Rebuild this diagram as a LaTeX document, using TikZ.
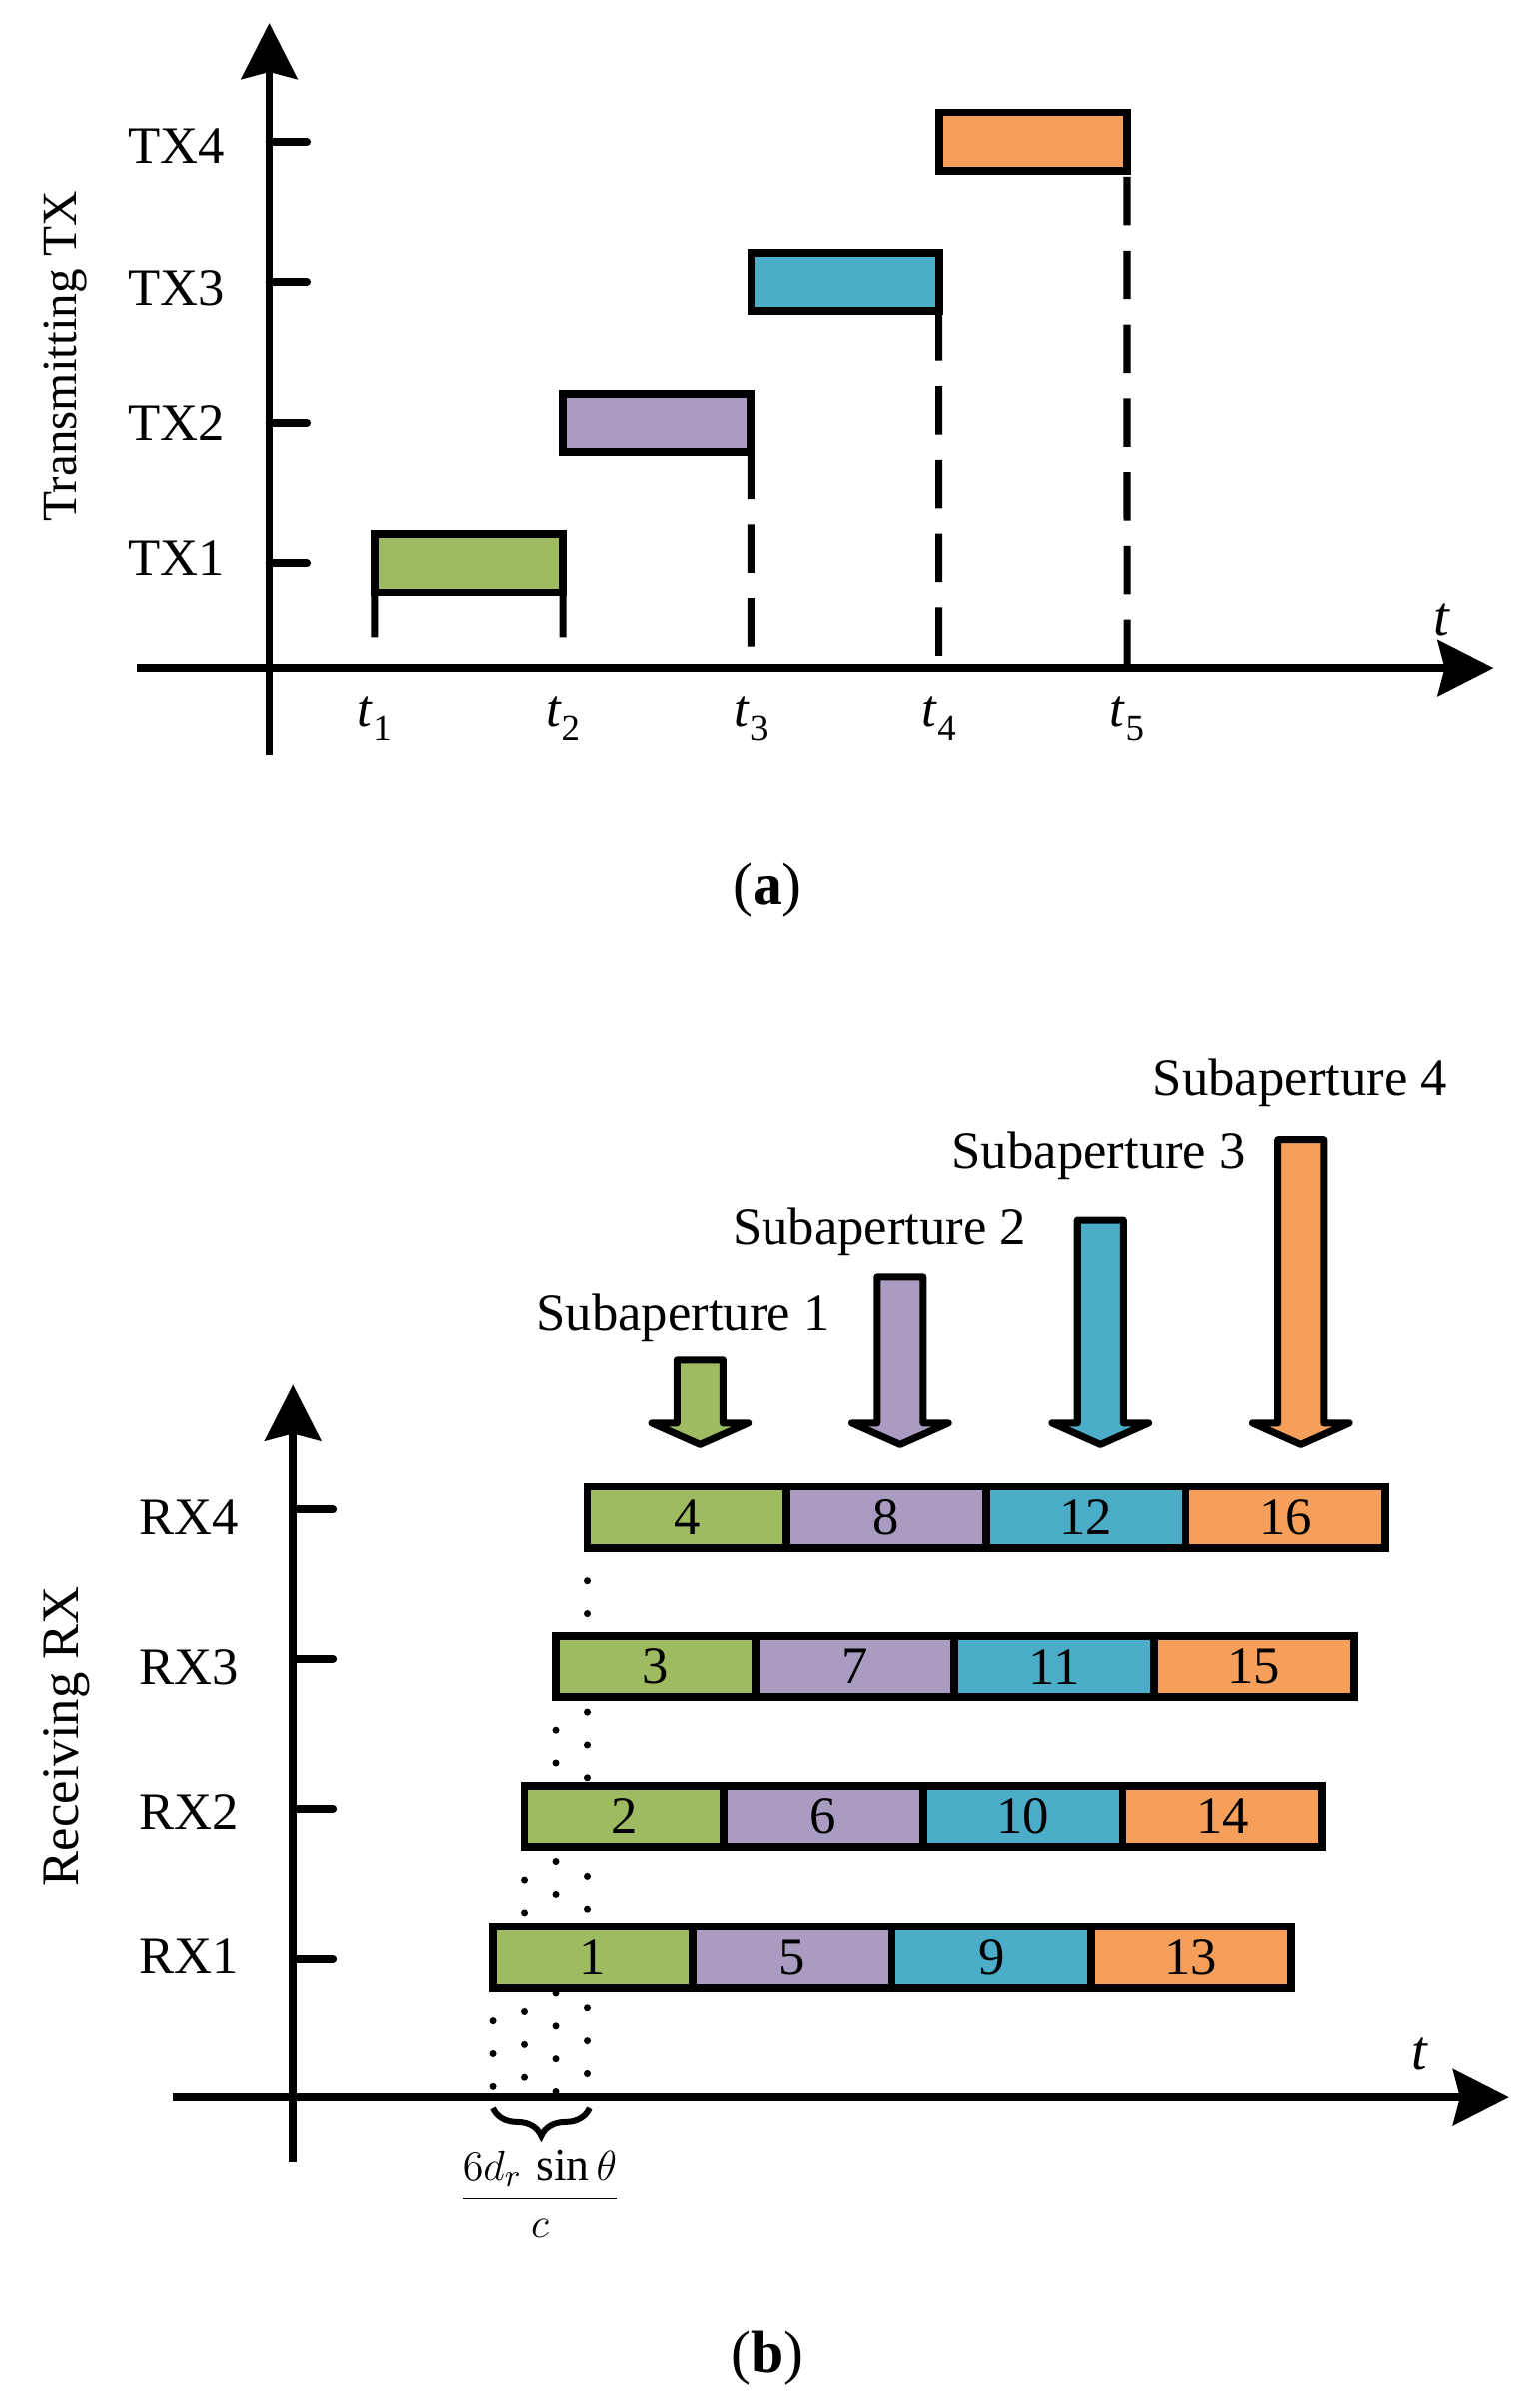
\documentclass[tikz,border=0pt]{standalone}
\usepackage{fontspec}
\setmainfont{Liberation Serif}
\usetikzlibrary{arrows.meta, decorations.pathreplacing}

\definecolor{subgreen}{HTML}{9FBB62}
\definecolor{subpurple}{HTML}{AA9BC0}
\definecolor{subblue}{HTML}{4BADC7}
\definecolor{suborange}{HTML}{F59F5A}

\tikzset{
  axis/.style={line width=2.2pt, -{Stealth[length=0.56cm, width=0.56cm, inset=0.07cm]}},
  tick/.style={line width=2.2pt, line cap=round},
  txbox/.style={draw, line width=2.2pt, outer sep=0pt, minimum width=1.883cm, minimum height=0.584cm},
  cell/.style={draw, line width=2.2pt, outer sep=0pt, minimum width=1.997cm, minimum height=0.614cm},
  timeline/.style={line width=2pt},
  dashline/.style={line width=2pt, dash pattern=on 13.8pt off 7.2pt},
  dotcol/.style={line width=2pt, line cap=round, dash pattern=on 0pt off 9.35pt},
  barrow/.style={line width=2pt, line join=round},
}

\begin{document}
\begin{tikzpicture}[x=0.01536cm, y=-0.01536cm, every node/.style={font=\fontsize{15}{18}\selectfont, inner sep=0pt}]
	\useasboundingbox (0,0) rectangle (1000,1568.4);
	% (a) transmitting
	\coordinate (ya0) at (175.5,491.5);
	\coordinate (ya1) at (175.5,15);
	\coordinate (xa0) at (89.4,435);
	\coordinate (xa1) at (973,435);
	\draw[axis] (ya0) -- (ya1);
	\draw[axis] (xa0) -- (xa1);

	\draw[tick] (175.5,92.3) -- (200,92.3);
	\draw[tick] (175.5,183.7) -- (200,183.7);
	\draw[tick] (175.5,275.3) -- (200,275.3);
	\draw[tick] (175.5,366.7) -- (200,366.7);

	\node[anchor=base east] (tx4l) at (147,106.4) {TX4};
	\node[anchor=base east] (tx3l) at (147,198.8) {TX3};
	\node[anchor=base east] (tx2l) at (147,286.6) {TX2};
	\node[anchor=base east] (tx1l) at (147,375) {TX1};
	\node[anchor=base, rotate=90, font=\fontsize{14}{17}\selectfont] (txlab) at (49.5,232) {Transmitting TX};

	\node[txbox, fill=subgreen] (tx1) at (305.3,366.7) {};
	\node[txbox, fill=subpurple] (tx2) at (427.9,275.3) {};
	\node[txbox, fill=subblue] (tx3) at (550.5,183.7) {};
	\node[txbox, fill=suborange] (tx4) at (673.1,92.3) {};

	\coordinate (e1) at (244,415);
	\coordinate (e2) at (366.6,415);
	\coordinate (e3) at (489.2,421);
	\coordinate (e4) at (611.8,427);
	\coordinate (e5) at (734.4,435);
	\draw[timeline] (tx1.south west) -- (e1);
	\draw[timeline] (tx1.south east) -- (e2);
	\draw[dashline] (e3) -- (tx2.south east);
	\draw[dashline] (e4) -- (tx3.south east);
	\draw[dashline] (e5) -- (tx4.south east);

	\node[anchor=base] (t1) at (244,473) {\textit{t}\raisebox{-3.9pt}{\fontsize{10.5}{12}\selectfont 1}};
	\node[anchor=base] (t2) at (366.6,473) {\textit{t}\raisebox{-3.9pt}{\fontsize{10.5}{12}\selectfont 2}};
	\node[anchor=base] (t3) at (489.2,473) {\textit{t}\raisebox{-3.9pt}{\fontsize{10.5}{12}\selectfont 3}};
	\node[anchor=base] (t4) at (611.8,473) {\textit{t}\raisebox{-3.9pt}{\fontsize{10.5}{12}\selectfont 4}};
	\node[anchor=base] (t5) at (734.4,473) {\textit{t}\raisebox{-3.9pt}{\fontsize{10.5}{12}\selectfont 5}};
	\node[anchor=base, font=\fontsize{16}{19}\selectfont\itshape] (ta) at (939,414) {t};
	\node[anchor=base, font=\fontsize{17}{20}\selectfont] (capa) at (500,589) {(\textbf{a})};

	% (b) receiving
	\coordinate (yb0) at (190.9,1408.5);
	\coordinate (yb1) at (190.9,902);
	\coordinate (xb0) at (112.9,1366);
	\coordinate (xb1) at (983,1366);

	\coordinate (d1) at (321,1294.8);
	\coordinate (d2) at (341.5,1203.3);
	\coordinate (d3) at (362,1105.7);
	\coordinate (d4) at (382.5,1008.4);
	\draw[dotcol] (d1) -- (d1 |- xb0);
	\draw[dotcol] (d2) -- (d2 |- xb0);
	\draw[dotcol] (d3) -- (d3 |- xb0);
	\draw[dotcol] (d4) -- (d4 |- xb0);

	\draw[axis] (yb0) -- (yb1);
	\draw[axis] (xb0) -- (xb1);

	\draw[tick] (190.9,983.3) -- (217,983.3);
	\draw[tick] (190.9,1080.6) -- (217,1080.6);
	\draw[tick] (190.9,1178.4) -- (217,1178.4);
	\draw[tick] (190.9,1276) -- (217,1276);

	\node[anchor=base east] (rx4l) at (156,999.4) {RX4};
	\node[anchor=base east] (rx3l) at (156,1097.6) {RX3};
	\node[anchor=base east] (rx2l) at (156,1191.8) {RX2};
	\node[anchor=base east] (rx1l) at (156,1285.7) {RX1};
	\node[anchor=base, rotate=90] (rxlab) at (51,1131) {Receiving RX};

	\node[cell, fill=subgreen] (r1c1) at (386,1274.8) {1};
	\node[cell, fill=subpurple] (r1c2) at (516,1274.8) {5};
	\node[cell, fill=subblue] (r1c3) at (646,1274.8) {9};
	\node[cell, fill=suborange] (r1c4) at (776,1274.8) {13};

	\node[cell, fill=subgreen] (r2c1) at (406.5,1183.3) {2};
	\node[cell, fill=subpurple] (r2c2) at (536.5,1183.3) {6};
	\node[cell, fill=subblue] (r2c3) at (666.5,1183.3) {10};
	\node[cell, fill=suborange] (r2c4) at (796.5,1183.3) {14};

	\node[cell, fill=subgreen] (r3c1) at (427,1085.7) {3};
	\node[cell, fill=subpurple] (r3c2) at (557,1085.7) {7};
	\node[cell, fill=subblue] (r3c3) at (687,1085.7) {11};
	\node[cell, fill=suborange] (r3c4) at (817,1085.7) {15};

	\node[cell, fill=subgreen] (r4c1) at (447.5,988.4) {4};
	\node[cell, fill=subpurple] (r4c2) at (577.5,988.4) {8};
	\node[cell, fill=subblue] (r4c3) at (707.5,988.4) {12};
	\node[cell, fill=suborange] (r4c4) at (837.5,988.4) {16};

	\filldraw[barrow, fill=subgreen] (441,886) -- (471,886) -- (471,927) -- (487.5,927) -- (456,941) -- (424.5,927) -- (441,927) -- cycle;
	\filldraw[barrow, fill=subpurple] (571.5,832) -- (601.5,832) -- (601.5,927) -- (618,927) -- (586.5,941) -- (555,927) -- (571.5,927) -- cycle;
	\filldraw[barrow, fill=subblue] (702,795) -- (732,795) -- (732,927) -- (748.5,927) -- (717,941) -- (685.5,927) -- (702,927) -- cycle;
	\filldraw[barrow, fill=suborange] (832.5,742) -- (862.5,742) -- (862.5,927) -- (879,927) -- (847.5,941) -- (816,927) -- (832.5,927) -- cycle;

	\node[anchor=base] (sub1) at (445,866.9) {Subaperture 1};
	\node[anchor=base] (sub2) at (573,810.6) {Subaperture 2};
	\node[anchor=base] (sub3) at (716,761) {Subaperture 3};
	\node[anchor=base] (sub4) at (847,713.5) {Subaperture 4};

	\coordinate (br0) at (321,1373);
	\coordinate (br1) at (384,1373);
	\draw[decorate, decoration={brace, mirror, amplitude=0.28cm}, line width=1.7pt] (br0) -- (br1);
	\node[font=\fontsize{13}{15}\selectfont] (delay) at (351.5,1429) {$\displaystyle\frac{6d_r\,\sin\theta}{c}$};

	\node[anchor=base, font=\fontsize{16}{19}\selectfont\itshape] (tb) at (925,1348) {t};
	\node[anchor=base, font=\fontsize{17}{20}\selectfont] (capb) at (500,1545) {(\textbf{b})};
\end{tikzpicture}
\end{document}
